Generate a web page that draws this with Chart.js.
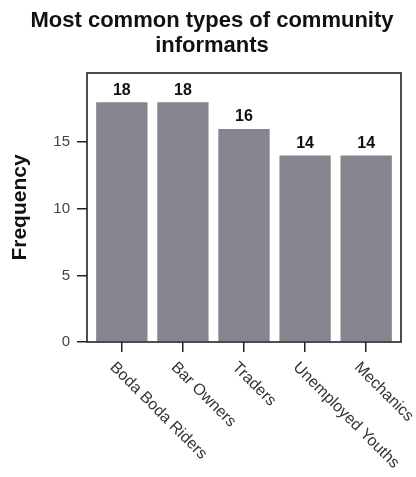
<!DOCTYPE html>
<html><head><meta charset="utf-8">
<script src="https://cdn.jsdelivr.net/npm/chart.js@4/dist/chart.umd.min.js"></script>
<style>html,body{margin:0;padding:0;background:#fff}</style>
</head><body>
<canvas id="c" width="416" height="477"></canvas>
<script>
const categories = ['Boda Boda Riders', 'Bar Owners', 'Traders', 'Unemployed Youths', 'Mechanics'];
const frequencies = [18, 18, 16, 14, 14];
const yTickValues = [0, 5, 10, 15];
const chartTitle = ['Most common types of community', 'informants'];
const yTitle = 'Frequency';

const FAMILY = '"Liberation Sans", Arial, Helvetica, sans-serif';

const framePlugin = {
  id: 'frame',
  afterDatasetsDraw(chart) {
    const {ctx, chartArea: a} = chart;
    ctx.save();
    ctx.strokeStyle = '#222';
    ctx.lineWidth = 1.6;
    ctx.strokeRect(a.left, a.top, a.right - a.left, a.bottom - a.top);
    ctx.restore();
  }
};

const valueLabelPlugin = {
  id: 'valueLabels',
  afterDatasetsDraw(chart) {
    const {ctx} = chart;
    const meta = chart.getDatasetMeta(0);
    ctx.save();
    ctx.font = 'bold 16px ' + FAMILY;
    ctx.fillStyle = '#111';
    ctx.textAlign = 'center';
    ctx.textBaseline = 'alphabetic';
    meta.data.forEach((bar, i) => {
      ctx.fillText(String(frequencies[i]), bar.x, bar.y - 7.5);
    });
    ctx.restore();
  }
};

const xLabelPlugin = {
  id: 'xLabels',
  afterDraw(chart) {
    const {ctx} = chart;
    const xs = chart.scales.x;
    ctx.save();
    ctx.font = '16px ' + FAMILY;
    ctx.fillStyle = '#333';
    ctx.textAlign = 'left';
    ctx.textBaseline = 'alphabetic';
    categories.forEach((c, i) => {
      const x = xs.getPixelForValue(i);
      ctx.save();
      ctx.translate(x - 12.5, xs.top + 26);
      ctx.rotate(Math.PI / 4);
      ctx.fillText(c, 0, 0);
      ctx.restore();
    });
    ctx.restore();
  }
};

new Chart(document.getElementById('c'), {
  type: 'bar',
  data: {
    datasets: [{
      data: categories.map((c, i) => ({x: i, y: frequencies[i]})),
      backgroundColor: '#86858f',
      borderWidth: 0,
      categoryPercentage: 1,
      barPercentage: 0.84
    }]
  },
  options: {
    responsive: false,
    animation: false,
    devicePixelRatio: 1,
    layout: {padding: {left: 8, right: 0, top: 0, bottom: 0}},
    plugins: {
      legend: {display: false},
      tooltip: {enabled: false},
      title: {
        display: true,
        text: chartTitle,
        color: '#111',
        font: {family: FAMILY, size: 22, weight: 'bold', lineHeight: 25 / 22},
        padding: {top: 8, bottom: 15}
      }
    },
    scales: {
      x: {
        type: 'linear',
        min: -0.57,
        max: 4.57,
        offset: false,
        afterBuildTicks: s => { s.ticks = categories.map((c, i) => ({value: i})); },
        afterFit: s => { s.height = 135; },
        ticks: {display: false},
        grid: {drawOnChartArea: false, drawTicks: true, tickLength: 10, color: '#222', lineWidth: 1.5, offset: false},
        border: {display: false}
      },
      y: {
        min: 0,
        max: 20.2,
        afterBuildTicks: s => { s.ticks = yTickValues.map(v => ({value: v})); },
        afterFit: s => { s.width = 79; },
        ticks: {font: {family: FAMILY, size: 15}, color: '#444', padding: 7},
        grid: {drawOnChartArea: false, drawTicks: true, tickLength: 10, color: '#222', lineWidth: 1.5},
        border: {display: false},
        title: {
          display: true,
          text: yTitle,
          color: '#111',
          font: {family: FAMILY, size: 21, weight: 'bold', lineHeight: 1.2},
          padding: {top: 0, bottom: 0}
        }
      },
      yRight: {
        position: 'right',
        min: 0,
        max: 20.2,
        afterFit: s => { s.width = 15; },
        ticks: {display: false},
        grid: {display: false},
        border: {display: false}
      }
    }
  },
  plugins: [framePlugin, valueLabelPlugin, xLabelPlugin]
});
</script>
</body></html>
